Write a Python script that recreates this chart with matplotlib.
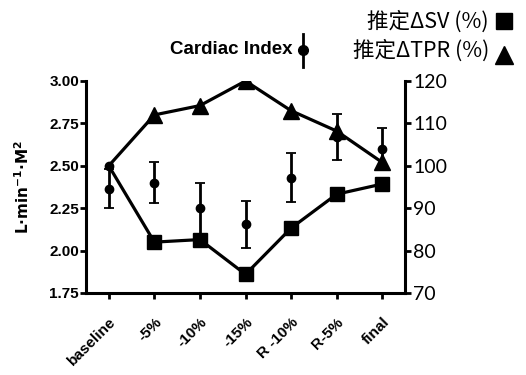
import matplotlib
matplotlib.use("Agg")
import matplotlib.pyplot as plt
from matplotlib.lines import Line2D

categories = ["baseline", "-5%", "-10%", "-15%", "R -10%", "R-5%", "final"]
ci_mean = [2.365, 2.40, 2.25, 2.155, 2.43, 2.67, 2.60]
ci_err = [0.115, 0.12, 0.15, 0.14, 0.145, 0.135, 0.12]
sv_pct = [100, 82, 82.6, 74.4, 85.3, 93.3, 95.7]
tpr_pct = [100, 112, 114.2, 120, 113, 108.2, 100.8]
left_ticks = [1.75, 2.00, 2.25, 2.50, 2.75, 3.00]
right_ticks = [70, 80, 90, 100, 110, 120]

fig = plt.figure(figsize=(5.26, 3.75), dpi=100)
ax = fig.add_axes([86/526, 1-293/375, (405-86)/526, (293-81)/375])
ax2 = ax.twinx()

x = list(range(len(categories)))
lw = 2.3
rest = list(range(1, len(categories)))

ax.errorbar(x, ci_mean, yerr=ci_err, fmt='o', color='black', ms=6,
            elinewidth=2, capsize=3.5, capthick=1.3, zorder=3)
ax2.plot(x, tpr_pct, '-^', color='black', lw=lw, ms=11.5, markevery=rest, zorder=4)
ax2.plot(x, sv_pct, '-s', color='black', lw=lw, ms=10, markevery=rest, zorder=4)
ax2.plot([x[0]], [sv_pct[0]], 'o', color='black', ms=6, zorder=5)

ax.set_xlim(-0.5, 6.5)
ax.set_ylim(1.75, 3.00)
ax2.set_ylim(70, 120)
ax.set_yticks(left_ticks)
ax.set_yticklabels([f"{v:.2f}" for v in left_ticks], fontsize=11,
                   fontweight='bold', family='Liberation Sans')
ax2.set_yticks(right_ticks)
ax2.set_yticklabels([str(v) for v in right_ticks], fontsize=14,
                    family='Lato')
ax.set_xticks(x)
ax.set_xticklabels(categories, rotation=45, ha='right', rotation_mode='anchor',
                   fontsize=11, fontweight='bold', family='Liberation Sans')

for a in (ax, ax2):
    a.spines['top'].set_visible(False)
    for s in a.spines.values():
        s.set_linewidth(2.2)
ax.spines['right'].set_visible(False)
ax2.spines['left'].set_visible(False)
ax2.spines['bottom'].set_visible(False)
ax.tick_params(axis='y', width=2, length=4, pad=1)
ax.tick_params(axis='x', width=2, length=4, pad=12)
ax2.tick_params(axis='y', width=2, length=4, pad=2)

ax.set_ylabel(r'$\mathbf{L{\cdot}min^{-1}{\cdot}M^{2}}$', fontsize=11)
ax.yaxis.set_label_coords(-0.17, 0.5)

# legend-like annotations
cjk = ['Noto Sans CJK SC', 'DejaVu Sans']
fig.text(489/526, 1-22/375, "推定ΔSV (%)", ha='right', va='center',
         fontsize=15.5, family=cjk)
fig.text(489/526, 1-51/375, "推定ΔTPR (%)", ha='right', va='center',
         fontsize=15.5, family=cjk)
fig.add_artist(Line2D([504/526], [1-21/375], marker='s', ms=11, color='black',
                      transform=fig.transFigure))
fig.add_artist(Line2D([504/526], [1-55/375], marker='^', ms=13, color='black',
                      transform=fig.transFigure))
fig.text(293/526, 1-50/375, "Cardiac Index", ha='right', va='center',
         fontsize=13.5, fontweight='bold', family='Liberation Sans')
fig.add_artist(Line2D([303/526, 303/526], [1-34/375, 1-67/375], lw=2,
                      color='black', transform=fig.transFigure))
fig.add_artist(Line2D([303/526], [1-50/375], marker='o', ms=7, color='black',
                      transform=fig.transFigure))

fig.savefig("out.png", dpi=100)
